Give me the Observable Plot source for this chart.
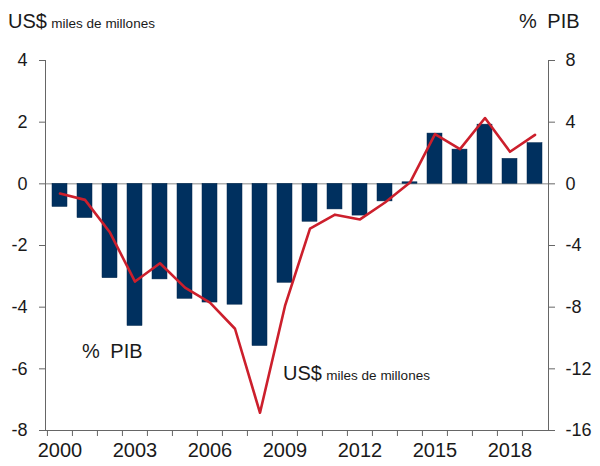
<!DOCTYPE html>
<html><head><meta charset="utf-8">
<script src="https://cdn.jsdelivr.net/npm/d3@7"></script>
<script src="https://cdn.jsdelivr.net/npm/@observablehq/plot@0.6"></script>
<style>
body{margin:0;background:#fff;font-family:"Liberation Sans",Arial,sans-serif}
#wrap{position:relative;width:600px;height:466px}
.lbl{position:absolute;white-space:nowrap;color:#1a1a1a;line-height:1}
.big{font-size:20px}
.small{font-size:13.5px}
</style></head><body><div id="wrap"></div>
<script>
const years = [2000,2001,2002,2003,2004,2005,2006,2007,2008,2009,2010,2011,2012,2013,2014,2015,2016,2017,2018,2019];
const usd = [-0.75,-1.11,-3.06,-4.61,-3.1,-3.73,-3.85,-3.92,-5.26,-3.21,-1.23,-0.83,-1.03,-0.57,0.05,1.63,1.11,1.92,0.81,1.32];
const pib = [-0.63,-1.04,-3.16,-6.34,-5.15,-6.73,-7.7,-9.4,-14.85,-7.92,-2.9,-2.0,-2.31,-1.21,0.08,3.23,2.25,4.27,2.08,3.18];
const leftTicks = [-8,-6,-4,-2,0,2,4];
const rightTicks = [-16,-12,-8,-4,0,4,8];
const xLabels = [2000,2003,2006,2009,2012,2015,2018];
const ratio = 2; // % PIB units per US$ unit

const data = years.map((year, i) => ({year, usd: usd[i], pib: pib[i]}));

const W = 600, H = 466, mL = 45, mR = 52, mT = 60, mB = 36;
const step = (W - mL - mR) / years.length;
const axisColor = "#666";

const chart = Plot.plot({
  width: W, height: H,
  marginLeft: mL, marginRight: mR, marginTop: mT, marginBottom: mB,
  style: {fontFamily: "Liberation Sans, Arial, sans-serif", color: "#1a1a1a", background: "#fff"},
  x: {type: "band", domain: years, paddingInner: 0.42, paddingOuter: 0.21},
  y: {domain: [-8, 4]},
  marks: [
    Plot.ruleY([0], {stroke: "#b0b0b0", strokeWidth: 1.5}),
    Plot.barY(data, {x: "year", y: "usd", fill: "#00305f", stroke: "#00264d", strokeWidth: 0.5}),
    Plot.lineY(data, {x: "year", y: d => d.pib / ratio, stroke: "#cc1f2c", strokeWidth: 2.6}),
    Plot.frame({anchor: "left", stroke: axisColor}),
    Plot.frame({anchor: "right", stroke: axisColor}),
    Plot.frame({anchor: "bottom", stroke: axisColor}),
    Plot.axisY({anchor: "left", ticks: leftTicks, tickFormat: v => String(v), tickSize: 6, tickPadding: 12, fontSize: 18, stroke: axisColor, label: null}),
    Plot.axisY({anchor: "right", ticks: rightTicks.map(v => v / ratio), tickFormat: v => String(v * ratio), tickSize: 6, tickPadding: 11, fontSize: 18, stroke: axisColor, label: null}),
    Plot.axisX({ticks: years, tickFormat: () => "", tickSize: 6, dx: -step / 2, stroke: axisColor, label: null}),
    Plot.axisX({ticks: xLabels, tickSize: 0, tickPadding: 12, fontSize: 20, label: null, tickFormat: d => String(d)})
  ]
});
const wrap = document.getElementById("wrap");
wrap.appendChild(chart);

function addLabel(html, left, top) {
  const d = document.createElement("div");
  d.className = "lbl";
  d.innerHTML = html;
  d.style.left = left + "px";
  d.style.top = top + "px";
  wrap.appendChild(d);
}
addLabel('<span class="big">US$</span> <span class="small">miles de millones</span>', 8, 11);
addLabel('<span class="big" style="word-spacing:5px">% PIB</span>', 519, 11);
addLabel('<span class="big" style="word-spacing:5px">% PIB</span>', 82, 341);
addLabel('<span class="big">US$</span> <span class="small">miles de millones</span>', 283, 363);
</script></body></html>
